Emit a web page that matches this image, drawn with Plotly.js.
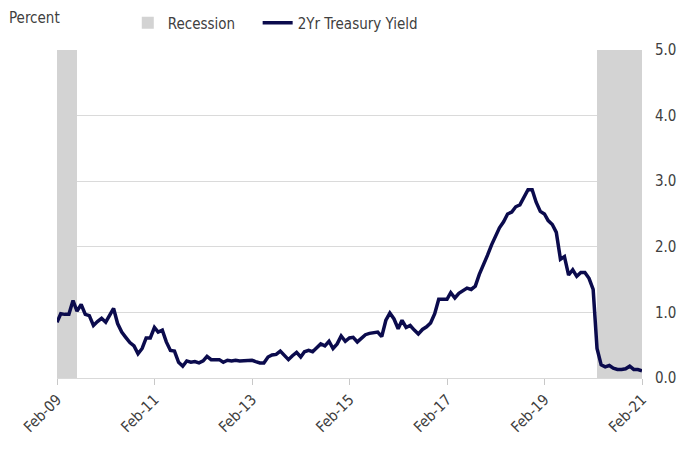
<!DOCTYPE html>
<html>
<head>
<meta charset="utf-8">
<script src="https://cdn.plot.ly/plotly-3.0.1.min.js"></script>
<style>html,body{margin:0;padding:0;background:#fff;}#chart{width:681px;height:453px;}</style>
</head>
<body>
<div id="chart"></div>
<script>
// Monthly 2Yr Treasury yield, Feb-2009 .. Feb-2021 (percent)
const startYear = 2009, startMonth = 2;
const yields = [
  0.85, 0.98, 0.97, 0.97, 1.18, 1.02, 1.12, 0.97, 0.95, 0.80, 0.86,
  0.91, 0.85, 0.94, 1.06, 0.83, 0.70, 0.62, 0.54, 0.49, 0.37, 0.45, 0.61,
  0.61, 0.77, 0.70, 0.73, 0.55, 0.42, 0.41, 0.24, 0.18, 0.26, 0.24, 0.25,
  0.23, 0.26, 0.33, 0.28, 0.28, 0.28, 0.24, 0.27, 0.26, 0.27, 0.26, 0.26,
  0.27, 0.27, 0.25, 0.23, 0.23, 0.32, 0.35, 0.36, 0.41, 0.34, 0.28, 0.34,
  0.39, 0.32, 0.40, 0.42, 0.40, 0.46, 0.52, 0.49, 0.56, 0.45, 0.52, 0.64,
  0.56, 0.61, 0.62, 0.55, 0.60, 0.66, 0.68, 0.69, 0.70, 0.63, 0.88, 0.99,
  0.90, 0.75, 0.88, 0.77, 0.80, 0.73, 0.67, 0.74, 0.78, 0.84, 0.98, 1.20,
  1.20, 1.20, 1.30, 1.22, 1.29, 1.33, 1.37, 1.35, 1.40, 1.58, 1.72, 1.87,
  2.03, 2.18, 2.29, 2.38, 2.50, 2.53, 2.61, 2.64, 2.77, 2.87, 2.87, 2.68,
  2.54, 2.50, 2.40, 2.34, 2.22, 1.81, 1.85, 1.57, 1.65, 1.55, 1.61, 1.61,
  1.52, 1.35, 0.45, 0.20, 0.17, 0.19, 0.15, 0.13, 0.13, 0.14, 0.18, 0.13,
  0.13, 0.11
];
// Recession periods (first and last month shaded)
const recessionStarts = ["2009-02-01", "2020-03-01"];
const recessionEnds   = ["2009-06-01", "2021-01-01"];
const recessionTop = 5;
const tickDates  = ["2009-02-01","2011-02-01","2013-02-01","2015-02-01","2017-02-01","2019-02-01","2021-02-01"];
const tickLabels = ["Feb-09","Feb-11","Feb-13","Feb-15","Feb-17","Feb-19","Feb-21"];

function ymd(y, m) { return y + "-" + String(m).padStart(2, "0") + "-01"; }
const dates = yields.map((_, i) => {
  const t = startMonth - 1 + i;
  return ymd(startYear + Math.floor(t / 12), (t % 12) + 1);
});

const recX = [], recY = [], recW = [];
dates.forEach(d => {
  for (let k = 0; k < recessionStarts.length; k++) {
    if (d >= recessionStarts[k] && d <= recessionEnds[k]) {
      const dt = new Date(d + "T00:00:00Z");
      const nx = new Date(Date.UTC(dt.getUTCFullYear(), dt.getUTCMonth() + 1, 1));
      recX.push(d); recY.push(recessionTop); recW.push(nx - dt);
    }
  }
});

const font = "'DejaVu Sans Condensed', 'DejaVu Sans', sans-serif";
const txt = "#404040";

const traces = [
  {
    type: "bar", name: "Recession", x: recX, y: recY, width: recW, offset: 0,
    marker: { color: "#d3d3d3", line: { width: 0 } }, hoverinfo: "skip",
    legend: "legend"
  },
  {
    type: "scatter", mode: "lines", name: "2Yr Treasury Yield", x: dates, y: yields,
    line: { color: "#0b0b4d", width: 3.5 }, legend: "legend2"
  }
];

const legendBase = {
  orientation: "h", y: 1.082, xanchor: "left", yanchor: "middle",
  font: { family: font, size: 15, color: txt }, itemwidth: 30
};

const layout = {
  width: 681, height: 453,
  margin: { l: 57, r: 39, t: 50, b: 75, autoexpand: false },
  paper_bgcolor: "#fff", plot_bgcolor: "#fff",
  bargap: 0,
  font: { family: font, color: txt, size: 14 },
  showlegend: true,
  legend: Object.assign({}, legendBase, { x: 0.121 }),
  legend2: Object.assign({}, legendBase, { x: 0.343 }),
  xaxis: {
    type: "date", range: ["2009-02-01", "2021-02-01"],
    tickmode: "array", tickvals: tickDates, ticktext: tickLabels,
    tickangle: -45, ticks: "outside", ticklen: 6, tickcolor: "#c8c8c8",
    showline: true, linecolor: "#d9d9d9", linewidth: 1,
    showgrid: false, zeroline: false,
    tickfont: { family: font, size: 15, color: txt }
  },
  yaxis: {
    side: "right", range: [0, 5], dtick: 1, tickformat: ".1f",
    showgrid: true, gridcolor: "#dadada", gridwidth: 1,
    zeroline: false, showline: false,
    ticks: "outside", ticklen: 9, tickcolor: "rgba(0,0,0,0)",
    tickfont: { family: font, size: 15, color: txt }
  },
  annotations: [{
    text: "Percent", xref: "paper", yref: "paper",
    x: -0.085, y: 1.098, xanchor: "left", yanchor: "middle",
    showarrow: false, font: { family: font, size: 15, color: txt }
  }]
};

Plotly.newPlot("chart", traces, layout, { displayModeBar: false, staticPlot: true });
</script>
</body>
</html>
